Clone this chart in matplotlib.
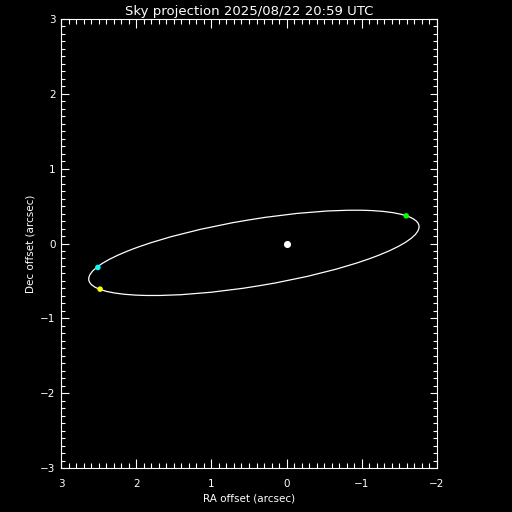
import matplotlib
matplotlib.use("Agg")
import matplotlib.pyplot as plt
from matplotlib.patches import Ellipse
from matplotlib.ticker import MultipleLocator

title = "Sky projection 2025/08/22 20:59 UTC"
xlabel = "RA offset (arcsec)"
ylabel = "Dec offset (arcsec)"
xlim = (3, -2)
ylim = (-3, 3)

# projected orbit ellipse (data units)
orbit_center = (0.435, -0.125)
orbit_major = 2.225   # semi-major
orbit_minor = 0.445   # semi-minor
orbit_angle = -9.4    # degrees

# markers
star_x, star_y = [0.0], [0.0]
pts_x = [-1.59, 2.51, 2.48]
pts_y = [0.37, -0.32, -0.61]
pts_colors = ["#00ff00", "#00ffff", "#ffff00"]

fig = plt.figure(figsize=(5.12, 5.12), dpi=100, facecolor="black")
ax = fig.add_axes([61/512, 1-468/512, 376/512, 449/512], facecolor="black")
ax.set_xlim(*xlim)
ax.set_ylim(*ylim)

ell = Ellipse(orbit_center, 2*orbit_major, 2*orbit_minor, angle=orbit_angle,
              fill=False, edgecolor="white", linewidth=0.9)
ax.add_patch(ell)
ax.scatter(star_x, star_y, s=26, color="white", zorder=3, linewidths=0)
ax.scatter(pts_x, pts_y, s=16, c=pts_colors, zorder=3, linewidths=0)

for s in ax.spines.values():
    s.set_color("white")
    s.set_linewidth(0.8)

ax.xaxis.set_major_locator(MultipleLocator(1))
ax.xaxis.set_minor_locator(MultipleLocator(0.1))
ax.yaxis.set_major_locator(MultipleLocator(1))
ax.yaxis.set_minor_locator(MultipleLocator(0.1))

ax.tick_params(axis="x", which="both", direction="in", top=True, bottom=True,
               colors="white", labelsize=7.5, width=0.8, pad=8)
ax.tick_params(axis="x", which="major", length=6.5)
ax.tick_params(axis="x", which="minor", length=3.3)
ax.tick_params(axis="y", which="both", direction="in", left=True, right=True,
               colors="white", labelsize=7.5, width=0.8, pad=4)
ax.tick_params(axis="y", which="major", length=5.4)
ax.tick_params(axis="y", which="minor", length=2.7)

ax.set_title(title, color="white", fontsize=9.5, pad=3)
ax.set_xlabel(xlabel, color="white", fontsize=7.5, labelpad=3)
ax.set_ylabel(ylabel, color="white", fontsize=7.5, labelpad=3)

fig.savefig("out.png", dpi=100, facecolor="black")
